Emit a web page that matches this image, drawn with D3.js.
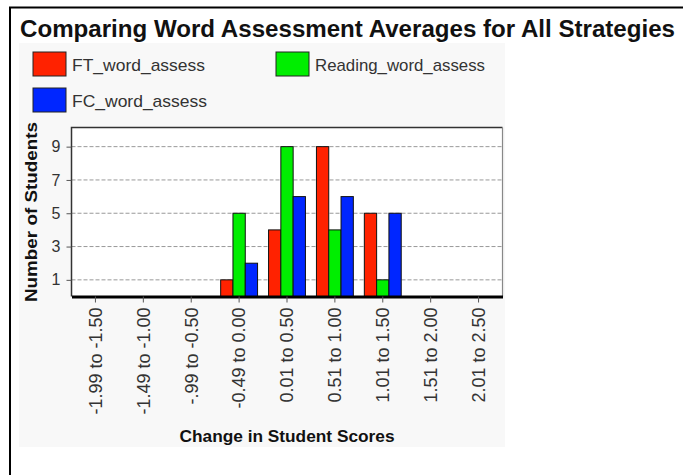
<!DOCTYPE html>
<html>
<head>
<meta charset="utf-8">
<script src="https://cdn.jsdelivr.net/npm/d3@7"></script>
<style>
  body { margin: 0; background: #fff; }
  svg { display: block; font-family: "Liberation Sans", Arial, sans-serif; }
</style>
</head>
<body>
<div id="chart"></div>
<script>
// data
const categories = ["-1.99 to -1.50", "-1.49 to -1.00", "-.99 to -0.50", "-0.49 to 0.00",
    "0.01 to 0.50", "0.51 to 1.00", "1.01 to 1.50", "1.51 to 2.00", "2.01 to 2.50"]
const seriesNames = ["FT_word_assess", "Reading_word_assess", "FC_word_assess"]
const ftValues = [0, 0, 0, 1, 4, 9, 5, 0, 0]
const readingValues = [0, 0, 0, 5, 9, 4, 1, 0, 0]
const fcValues = [0, 0, 0, 2, 6, 6, 5, 0, 0]
const yTicks = [1, 3, 5, 7, 9]
const colors = ["#ff2200", "#00ee00", "#0026ff"]

const width = 683, height = 475
const plot = { left: 71.5, right: 502.5, top: 127.5, bottom: 296.5 }

let svg = d3.select("#chart")
    .append("svg")
    .attr("width", width)
    .attr("height", height)

// light panel behind the chart
svg.append("rect")
    .attr("x", 19).attr("y", 43)
    .attr("width", 486).attr("height", 404)
    .attr("fill", "#f8f8f8")

// outer frame (top and left only)
svg.append("path")
    .attr("d", `M10,${height} V7.5 H${width}`)
    .attr("fill", "none")
    .attr("stroke", "#000")
    .attr("stroke-width", 2)

// title
svg.append("text")
    .attr("x", 20).attr("y", 37)
    .attr("textLength", 655)
    .attr("lengthAdjust", "spacingAndGlyphs")
    .style("font-size", "23px")
    .style("font-weight", "bold")
    .attr("fill", "#111")
    .text("Comparing Word Assessment Averages for All Strategies")

// legend
const legendPos = [[33, 52], [276, 52], [33, 88]]
const legendTextLen = [133, 170, 135]
let legend = svg.selectAll(".legend")
    .data(seriesNames)
    .enter()
    .append("g")
    .attr("transform", (d, i) => `translate(${legendPos[i][0]}, ${legendPos[i][1]})`)
legend.append("rect")
    .attr("width", 33).attr("height", 24)
    .attr("fill", (d, i) => colors[i])
    .attr("stroke", "#222")
    .attr("stroke-width", 1)
legend.append("text")
    .attr("x", 39).attr("y", 19)
    .attr("textLength", (d, i) => legendTextLen[i])
    .attr("lengthAdjust", "spacingAndGlyphs")
    .style("font-size", "17px")
    .attr("fill", "#333")
    .text(d => d)

// scales
let x0 = d3.scaleBand()
    .domain(categories)
    .range([plot.left, plot.right])
    .padding(0)
let x1 = d3.scaleBand()
    .domain(seriesNames)
    .range([5.5, x0.bandwidth() - 5.5])
    .padding(0)
let y = d3.scaleLinear()
    .domain([0, 10.15])
    .range([plot.bottom, plot.top])

// plot background
svg.append("rect")
    .attr("x", plot.left).attr("y", plot.top)
    .attr("width", plot.right - plot.left)
    .attr("height", plot.bottom - plot.top)
    .attr("fill", "#fff")

// gridlines
svg.append("g")
    .selectAll("line")
    .data(yTicks)
    .enter()
    .append("line")
    .attr("x1", plot.left).attr("x2", plot.right)
    .attr("y1", d => y(d)).attr("y2", d => y(d))
    .attr("stroke", "#999")
    .attr("stroke-dasharray", "4,2")

// bars
const seriesValues = [ftValues, readingValues, fcValues]
let bars = []
categories.forEach((c, ci) => {
    seriesNames.forEach((s, si) => {
        let v = seriesValues[si][ci]
        if (v > 0) bars.push({ cat: c, series: s, si: si, value: v })
    })
})
svg.append("g")
    .selectAll("rect")
    .data(bars)
    .enter()
    .append("rect")
    .attr("x", d => x0(d.cat) + x1(d.series))
    .attr("y", d => y(d.value))
    .attr("width", x1.bandwidth())
    .attr("height", d => y(0) - y(d.value))
    .attr("fill", d => colors[d.si])
    .attr("stroke", "#111")
    .attr("stroke-width", 1)

// frame of the plot
svg.append("path")
    .attr("d", `M${plot.left},${plot.bottom} V${plot.top} H${plot.right}`)
    .attr("fill", "none")
    .attr("stroke", "#333")
    .attr("stroke-width", 1.5)
svg.append("line")
    .attr("x1", plot.right).attr("x2", plot.right)
    .attr("y1", plot.top).attr("y2", plot.bottom)
    .attr("stroke", "#888")
    .attr("stroke-width", 1.2)

// y axis
let yAxis = svg.append("g")
    .attr("transform", `translate(${plot.left}, 0)`)
    .call(d3.axisLeft(y).tickValues(yTicks).tickSize(5).tickPadding(6))
yAxis.select(".domain").remove()
yAxis.selectAll("line").attr("stroke", "#555")
yAxis.selectAll("text")
    .style("font-size", "16px")
    .style("font-family", "Liberation Sans, Arial, sans-serif")
    .attr("fill", "#333")

// x axis
let xAxis = svg.append("g")
    .attr("transform", `translate(0, ${plot.bottom})`)
    .call(d3.axisBottom(x0).tickSize(6).tickSizeOuter(0))
xAxis.select(".domain")
    .attr("stroke", "#000")
    .attr("stroke-width", 3)
xAxis.selectAll("line").attr("stroke", "#555")
xAxis.selectAll("text")
    .style("font-size", "18px")
    .style("font-family", "Liberation Sans, Arial, sans-serif")
    .attr("fill", "#333")
    .attr("text-anchor", "end")
    .attr("transform", "rotate(-90)")
    .attr("x", -11)
    .attr("y", 0)
    .attr("dy", "0.35em")

// axis titles
svg.append("text")
    .attr("x", 287).attr("y", 442)
    .attr("text-anchor", "middle")
    .attr("textLength", 215)
    .attr("lengthAdjust", "spacingAndGlyphs")
    .style("font-size", "16px")
    .style("font-weight", "bold")
    .attr("fill", "#111")
    .text("Change in Student Scores")
svg.append("text")
    .attr("transform", "translate(37, 212) rotate(-90)")
    .attr("text-anchor", "middle")
    .attr("textLength", 180)
    .attr("lengthAdjust", "spacingAndGlyphs")
    .style("font-size", "16px")
    .style("font-weight", "bold")
    .attr("fill", "#111")
    .text("Number of Students")
</script>
</body>
</html>
